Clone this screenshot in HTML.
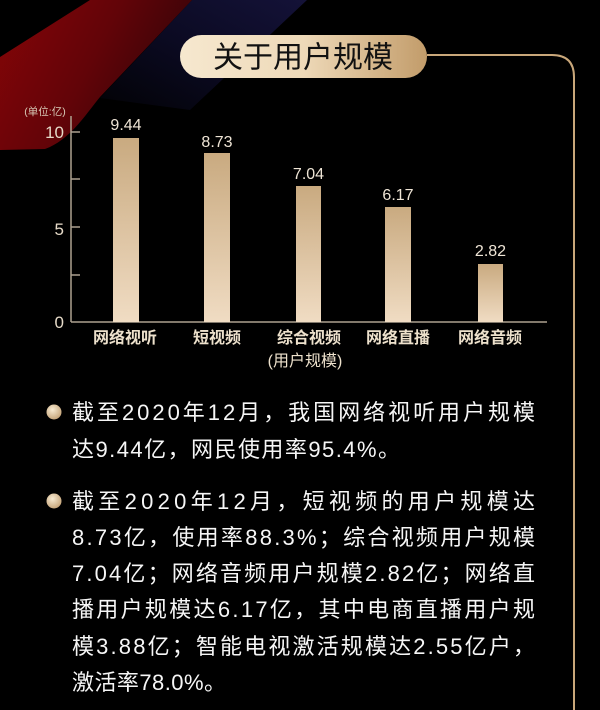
<!DOCTYPE html>
<html><head><meta charset="utf-8"><style>
html,body{margin:0;padding:0;background:#000;}
svg{display:block;}
text{font-family:"Liberation Sans","Noto Sans CJK SC",sans-serif;}
</style></head><body>
<svg width="600" height="710" viewBox="0 0 600 710" xmlns="http://www.w3.org/2000/svg">
<defs>
<linearGradient id="red" x1="0" y1="0" x2="1" y2="0.4">
<stop offset="0" stop-color="#860507"/><stop offset="0.55" stop-color="#620408"/><stop offset="1" stop-color="#350308"/>
</linearGradient>
<linearGradient id="navy" x1="1" y1="0" x2="0" y2="1">
<stop offset="0" stop-color="#141238"/><stop offset="0.5" stop-color="#0b0a22"/><stop offset="1" stop-color="#020205"/>
</linearGradient>
<linearGradient id="pill" x1="0" y1="0" x2="1" y2="0">
<stop offset="0" stop-color="#f6e8cf"/><stop offset="0.5" stop-color="#eed9b8"/><stop offset="1" stop-color="#c29c6a"/>
</linearGradient>
<linearGradient id="bar" x1="0" y1="0" x2="0" y2="1">
<stop offset="0" stop-color="#c9aa80"/><stop offset="1" stop-color="#f0dcc3"/>
</linearGradient>
<radialGradient id="dot" cx="0.4" cy="0.35" r="0.7">
<stop offset="0" stop-color="#f8ebd2"/><stop offset="1" stop-color="#c4a276"/>
</radialGradient>
</defs>
<rect width="600" height="710" fill="#000"/>
<!-- background bands -->
<path d="M192,0 L307,0 L190,110 L100,98 Z" fill="url(#navy)"/>
<path d="M90,0 L192,0 L100,97 C86,114 70,140 45,149 L0,150 L0,57 Z" fill="url(#red)"/>
<!-- header -->
<rect x="180" y="35" width="247" height="43" rx="21.5" fill="url(#pill)"/>
<text x="303" y="67.5" font-size="30" text-anchor="middle" fill="#111">关于用户规模</text>
<path d="M427,55 H552 Q574,55 574,77 V710" fill="none" stroke="#c9a77a" stroke-width="2"/>
<!-- axes -->
<text x="45" y="115" font-size="10.5" text-anchor="middle" fill="#d8cbb8">(单位:亿)</text>
<line x1="71" y1="116" x2="71" y2="322" stroke="#ada190" stroke-width="1.5"/>
<line x1="71" y1="322" x2="547" y2="322" stroke="#ada190" stroke-width="1.5"/>
<g stroke="#ada190" stroke-width="1.5">
<line x1="71" y1="132" x2="80" y2="132"/>
<line x1="71" y1="179" x2="80" y2="179"/>
<line x1="71" y1="227" x2="80" y2="227"/>
<line x1="71" y1="275" x2="80" y2="275"/>
</g>
<g font-size="17" fill="#e6dac8" text-anchor="end">
<text x="64" y="138">10</text>
<text x="64" y="235">5</text>
<text x="64" y="328">0</text>
</g>
<!-- bars -->
<rect x="113" y="138" width="26" height="184" fill="url(#bar)"/>
<rect x="204" y="153" width="26" height="169" fill="url(#bar)"/>
<rect x="296" y="186" width="25" height="136" fill="url(#bar)"/>
<rect x="385" y="207" width="26" height="115" fill="url(#bar)"/>
<rect x="478" y="264" width="25" height="58" fill="url(#bar)"/>
<g font-size="16" fill="#efe5d6" text-anchor="middle">
<text x="126" y="130">9.44</text>
<text x="217" y="147">8.73</text>
<text x="308.5" y="179">7.04</text>
<text x="398" y="200">6.17</text>
<text x="490.5" y="256">2.82</text>
</g>
<g font-size="16" font-weight="bold" fill="#ede1cc" text-anchor="middle">
<text x="125" y="343">网络视听</text>
<text x="217" y="343">短视频</text>
<text x="309" y="343">综合视频</text>
<text x="398" y="343">网络直播</text>
<text x="490" y="343">网络音频</text>
<text x="305" y="366" font-weight="normal">(用户规模)</text>
</g>
<!-- bullets -->
<circle cx="54" cy="412" r="7.5" fill="url(#dot)"/>
<circle cx="54" cy="501" r="7.5" fill="url(#dot)"/>
<g font-size="22" fill="#f6f6f6">
<text x="72" y="420" textLength="463" lengthAdjust="spacing">截至2020年12月，我国网络视听用户规模</text>
<text x="72" y="457" textLength="328" lengthAdjust="spacing">达9.44亿，网民使用率95.4%。</text>
<text x="72" y="509" textLength="463" lengthAdjust="spacing">截至2020年12月，短视频的用户规模达</text>
<text x="72" y="545" textLength="463" lengthAdjust="spacing">8.73亿，使用率88.3%；综合视频用户规模</text>
<text x="72" y="581" textLength="463" lengthAdjust="spacing">7.04亿；网络音频用户规模2.82亿；网络直</text>
<text x="72" y="617" textLength="463" lengthAdjust="spacing">播用户规模达6.17亿，其中电商直播用户规</text>
<text x="72" y="654" textLength="463" lengthAdjust="spacing">模3.88亿；智能电视激活规模达2.55亿户，</text>
<text x="72" y="690" textLength="154" lengthAdjust="spacing">激活率78.0%。</text>
</g>
</svg>
</body></html>
